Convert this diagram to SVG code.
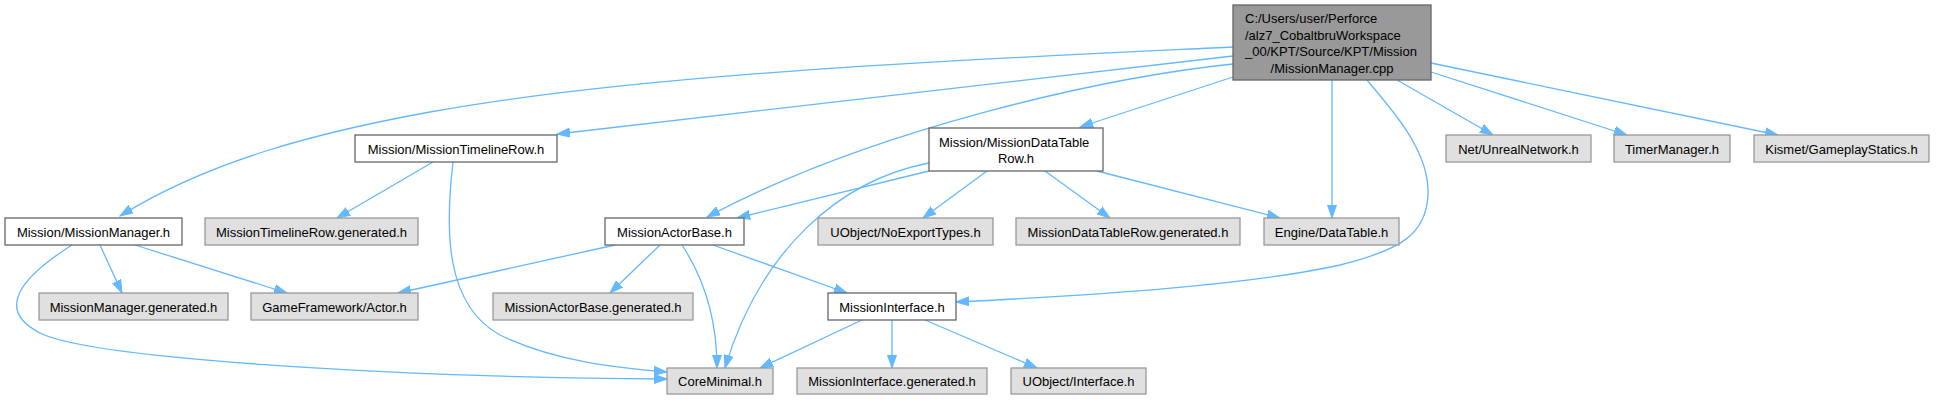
<svg xmlns="http://www.w3.org/2000/svg" width="1937" height="400" viewBox="0 0 1937 400">
<style>
text{font-family:"Liberation Sans",Arial,sans-serif;font-size:13px;fill:#000}
.m{text-anchor:middle}
.s{text-anchor:start}
.w{fill:#fff;stroke:#666;stroke-width:1.3}
.g{fill:#e0e0e0;stroke:#999;stroke-width:1.3}
.r{fill:#999;stroke:#666;stroke-width:1.3}
.e path{fill:none;stroke:#63b8ff;stroke-width:1.3;marker-end:url(#a)}
</style>
<defs>
<marker id="a" markerUnits="userSpaceOnUse" markerWidth="14" markerHeight="10" viewBox="0 0 14 10" refX="13" refY="5" orient="auto">
<path d="M0,0.5 L13,5 L0,9.5 z" fill="#63b8ff" stroke="#63b8ff" stroke-width="1"/>
</marker>
</defs>
<rect width="1937" height="400" fill="#fff"/>
<g class="e" id="edges">
<path d="M1233,47 C1000,58 650,72 430,112 C320,132 210,160 120,216"/>
<path d="M1233,56 L557,134"/>
<path d="M1233,64 C1100,78 870,130 707,217"/>
<path d="M1233,77 L1080,127"/>
<path d="M1332,80 L1332,218"/>
<path d="M1367,80 C1390,108 1430,150 1428,195 C1426,235 1400,250 1340,265 C1250,285 1100,295 956,302"/>
<path d="M1397,80 L1493,135"/>
<path d="M1431,72 L1627,135"/>
<path d="M1431,63 L1778,135"/>
<path d="M100,245 L122,293"/>
<path d="M135,245 L287,293"/>
<path d="M72,245 C20,278 -5,310 40,333 C90,358 380,377 667,379"/>
<path d="M433,162 L337,218"/>
<path d="M453,162 C445,230 445,305 500,335 C555,362 620,368 667,372"/>
<path d="M929,171 L737,218"/>
<path d="M929,163 C840,180 760,250 725,368"/>
<path d="M987,171 L923,218"/>
<path d="M1045,171 L1110,218"/>
<path d="M1097,171 L1280,218"/>
<path d="M615,245 L398,293"/>
<path d="M660,245 L610,293"/>
<path d="M682,245 C705,280 717,320 717,368"/>
<path d="M713,245 L847,293"/>
<path d="M862,320 L760,368"/>
<path d="M892,320 L892,368"/>
<path d="M925,320 L1037,368"/>
</g>
<g id="root"><rect class="r" x="1233" y="5" width="198" height="75"/>
<text class="s" x="1245" y="23">C:/Users/user/Perforce</text>
<text class="s" x="1245" y="39.5">/alz7_CobaltbruWorkspace</text>
<text class="s" x="1245" y="56">_00/KPT/Source/KPT/Mission</text>
<text class="m" x="1332" y="72.5">/MissionManager.cpp</text></g>
<g id="n_missionmanager_h"><rect class="w" x="5" y="218" width="177" height="27"/><text class="m" x="93.5" y="236.5">Mission/MissionManager.h</text></g>
<g id="n_missionmanager_gen"><rect class="g" x="39" y="293" width="189" height="27"/><text class="m" x="133.5" y="311.5">MissionManager.generated.h</text></g>
<g id="n_actor"><rect class="g" x="251" y="293" width="167" height="27"/><text class="m" x="334.5" y="311.5">GameFramework/Actor.h</text></g>
<g id="n_coreminimal"><rect class="g" x="667" y="368" width="106" height="26"/><text class="m" x="720" y="386">CoreMinimal.h</text></g>
<g id="n_timelinerow"><rect class="w" x="355" y="135" width="202" height="27"/><text class="m" x="456" y="153.5">Mission/MissionTimelineRow.h</text></g>
<g id="n_timelinerow_gen"><rect class="g" x="205" y="218" width="213" height="27"/><text class="m" x="311.5" y="236.5">MissionTimelineRow.generated.h</text></g>
<g id="n_actorbase"><rect class="w" x="605" y="218" width="139" height="27"/><text class="m" x="674.5" y="236.5">MissionActorBase.h</text></g>
<g id="n_actorbase_gen"><rect class="g" x="493" y="293" width="200" height="27"/><text class="m" x="593" y="311.5">MissionActorBase.generated.h</text></g>
<g id="n_interface"><rect class="w" x="828" y="293" width="128" height="27"/><text class="m" x="892" y="311.5">MissionInterface.h</text></g>
<g id="n_interface_gen"><rect class="g" x="797" y="368" width="190" height="26"/><text class="m" x="892" y="386">MissionInterface.generated.h</text></g>
<g id="n_uinterface"><rect class="g" x="1011" y="368" width="135" height="26"/><text class="m" x="1078.5" y="386">UObject/Interface.h</text></g>
<g id="n_datatablerow"><rect class="w" x="929" y="128" width="174" height="43"/>
<text class="s" x="939" y="147">Mission/MissionDataTable</text>
<text class="m" x="1016" y="162.5">Row.h</text></g>
<g id="n_noexport"><rect class="g" x="818" y="218" width="175" height="27"/><text class="m" x="905.5" y="236.5">UObject/NoExportTypes.h</text></g>
<g id="n_datatablerow_gen"><rect class="g" x="1016" y="218" width="224" height="27"/><text class="m" x="1128" y="236.5">MissionDataTableRow.generated.h</text></g>
<g id="n_datatable"><rect class="g" x="1264" y="218" width="135" height="27"/><text class="m" x="1331.5" y="236.5">Engine/DataTable.h</text></g>
<g id="n_unrealnetwork"><rect class="g" x="1446" y="135" width="145" height="27"/><text class="m" x="1518.5" y="153.5">Net/UnrealNetwork.h</text></g>
<g id="n_timermanager"><rect class="g" x="1614" y="135" width="116" height="27"/><text class="m" x="1672" y="153.5">TimerManager.h</text></g>
<g id="n_gameplaystatics"><rect class="g" x="1754" y="135" width="175" height="27"/><text class="m" x="1841.5" y="153.5">Kismet/GameplayStatics.h</text></g>
</svg>
